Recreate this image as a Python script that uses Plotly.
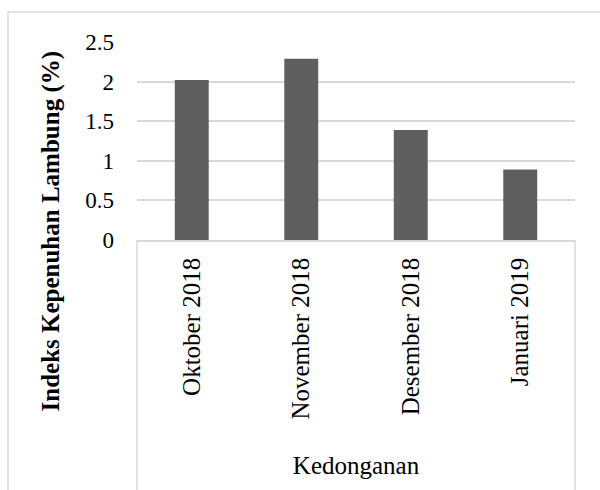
import plotly.graph_objects as go

# Stomach fullness index per sampling month at Kedonganan
months = ["Oktober 2018", "November 2018", "Desember 2018", "Januari 2019"]
values = [2.02, 2.29, 1.39, 0.89]
location = "Kedonganan"
y_ticks = [0, 0.5, 1, 1.5, 2, 2.5]
y_tick_text = ["0", "0.5", "1", "1.5", "2", "2.5"]
y_title = "Indeks Kepenuhan Lambung (%)"

W, H = 600, 490
L, R, T, B = 137, 25, 42, 250
plot_w = W - L - R
plot_h = H - T - B

GRID = "#d9d9d9"
FONT = "Liberation Serif"


def px_to_paper_x(px):
    return (px - L) / plot_w


def px_to_paper_y(py):
    return (H - B - py) / plot_h


fig = go.Figure(
    go.Bar(
        x=months,
        y=values,
        marker=dict(color="#5f5f5f", line=dict(width=0)),
        hoverinfo="skip",
    )
)

fig.update_layout(
    width=W,
    height=H,
    margin=dict(l=L, r=R, t=T, b=B, pad=0),
    paper_bgcolor="white",
    plot_bgcolor="white",
    bargap=0.69,
    showlegend=False,
    font=dict(family=FONT, color="#000000", size=25),
    xaxis=dict(
        type="category",
        tickangle=-90,
        ticks="",
        showgrid=False,
        showline=True,
        linecolor=GRID,
        linewidth=1.5,
        tickfont=dict(family=FONT, size=25, color="#000000"),
        ticklabelstandoff=6,
        title=dict(text=location, font=dict(family=FONT, size=25), standoff=38),
        fixedrange=True,
    ),
    yaxis=dict(
        range=[0, 2.5],
        tickvals=y_ticks,
        ticktext=y_tick_text,
        ticks="",
        showgrid=True,
        gridcolor=GRID,
        gridwidth=1.5,
        zeroline=False,
        showline=False,
        tickfont=dict(family=FONT, size=23, color="#000000"),
        ticklabelstandoff=22,
        fixedrange=True,
    ),
    shapes=[
        # outer chart frame
        dict(type="rect", xref="paper", yref="paper",
             x0=px_to_paper_x(8), x1=px_to_paper_x(640),
             y0=px_to_paper_y(540), y1=px_to_paper_y(12),
             line=dict(color=GRID, width=1.5), fillcolor="rgba(0,0,0,0)", layer="below"),
        # category box sides
        dict(type="line", xref="paper", yref="paper",
             x0=0, x1=0, y0=0, y1=px_to_paper_y(495),
             line=dict(color=GRID, width=1.5)),
        dict(type="line", xref="paper", yref="paper",
             x0=1, x1=1, y0=0, y1=px_to_paper_y(495),
             line=dict(color=GRID, width=1.5)),
    ],
    annotations=[
        dict(text="<b>" + y_title + "</b>", textangle=-90,
             xref="paper", yref="paper",
             x=px_to_paper_x(50), y=px_to_paper_y(231.5),
             xanchor="center", yanchor="middle", showarrow=False,
             font=dict(family=FONT, size=25, color="#000000")),
    ],
)

fig.write_html("out.html")
